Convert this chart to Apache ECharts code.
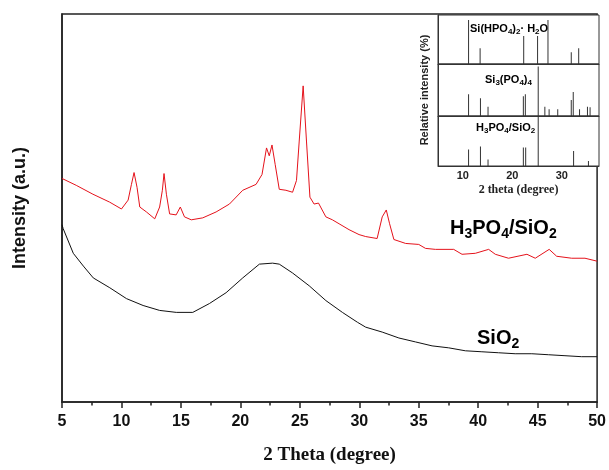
<!DOCTYPE html>
<html>
<head>
<meta charset="utf-8">
<title>XRD</title>
<script src="https://cdn.jsdelivr.net/npm/echarts/dist/echarts.min.js"></script>
<style>
  html, body { margin: 0; padding: 0; background: #fff; }
  #main { width: 609px; height: 470px; }
</style>
</head>
<body>
<div id="main"></div>
<script>
// main pattern, H3PO4/SiO2 (2theta, intensity a.u.)
var redData = [
  [5.0, 227], [6.2, 220], [7.6, 211], [9.0, 203], [10.0, 196], [10.56, 205], [10.84, 221],
  [11.06, 233], [11.31, 218], [11.54, 198], [12.1, 193], [12.8, 186], [13.21, 198],
  [13.44, 215], [13.58, 232], [13.78, 211], [14.05, 191], [14.6, 190], [14.95, 198],
  [15.3, 188], [15.87, 185], [16.84, 187], [17.96, 193], [19.08, 201], [20.2, 215],
  [21.32, 221], [21.82, 231], [22.2, 258], [22.43, 250], [22.66, 261], [22.93, 241],
  [23.27, 216], [23.83, 215], [24.39, 213], [24.72, 225], [24.95, 265], [25.28, 321],
  [25.56, 265], [25.85, 208], [26.2, 201], [26.57, 202], [27.19, 188], [27.74, 185],
  [28.3, 181], [29.14, 175], [29.98, 170], [30.54, 168], [31.5, 166], [31.93, 188],
  [32.27, 195], [32.55, 181], [32.91, 165], [33.9, 161], [35.0, 160], [35.57, 156],
  [36.4, 155], [37.94, 155], [38.64, 150], [39.76, 151], [40.88, 155], [41.44, 150],
  [42.55, 146], [44.1, 150], [44.8, 146], [45.97, 155], [46.6, 148], [47.86, 146],
  [48.98, 146], [50.0, 143]
];
// main pattern, SiO2
var blackData = [
  [5.0, 180], [5.1, 176], [5.95, 151], [6.8, 138], [7.63, 126], [9.02, 116], [10.42, 105],
  [11.82, 98], [13.21, 93], [14.61, 91], [16.0, 91], [17.4, 100], [18.8, 111], [20.2, 126],
  [21.6, 140], [22.71, 141], [23.27, 140], [24.39, 131], [25.79, 118], [27.19, 103],
  [28.58, 91], [29.84, 81], [30.54, 76], [31.93, 71], [33.33, 65], [34.73, 61], [36.12, 57],
  [37.52, 55], [38.92, 52], [40.31, 51], [41.71, 50], [43.11, 49], [44.51, 49], [45.9, 48],
  [47.3, 47], [48.7, 46], [50.0, 46]
];
// inset reference sticks (2theta, relative intensity %)
var siHPOSticks = [[11.17, 90], [13.5, 32], [22.3, 57], [25.1, 57], [27.2, 90], [31.9, 24], [33.4, 32]];
var si3PO4Sticks = [[11.17, 42], [13.57, 34], [15.1, 18], [22.23, 38], [22.63, 42], [25.23, 95],
  [26.57, 18], [27.43, 13], [29.17, 13], [31.9, 31], [32.3, 46], [33.57, 13], [35.17, 18], [35.7, 17]];
var h3po4Sticks = [[11.17, 33], [13.57, 39], [15.1, 13], [22.23, 37], [22.7, 37], [25.23, 99],
  [32.37, 30], [35.37, 10]];
var mainTicks = [5, 10, 15, 20, 25, 30, 35, 40, 45, 50];
var insetTicks = [10, 20, 30];

var chart = echarts.init(document.getElementById('main'));

var sans = 'Liberation Sans, Arial, sans-serif';
var serif = 'Liberation Serif, Times New Roman, serif';
var frame = '#222';

function insetX(idx, showLabels) {
  return {
    type: 'value', gridIndex: idx, min: 5, max: 37.5, interval: 5,
    axisLine: { show: true, lineStyle: { color: '#333', width: 1 } },
    axisTick: { show: false },
    splitLine: { show: false },
    axisLabel: {
      show: showLabels, margin: 4, color: '#222',
      fontFamily: sans, fontWeight: 'bold', fontSize: 11,
      showMinLabel: false, showMaxLabel: false,
      formatter: function (v) { return insetTicks.indexOf(v) >= 0 ? String(v) : ''; }
    },
    name: showLabels ? '2 theta (degree)' : '',
    nameLocation: 'middle', nameGap: 18,
    nameTextStyle: { fontFamily: serif, fontWeight: 'bold', fontSize: 12, color: '#222' }
  };
}
function insetY(idx, name) {
  return {
    type: 'value', gridIndex: idx, min: 0, max: 100,
    axisLine: { show: true, lineStyle: { color: '#333', width: 1 } },
    axisTick: { show: false }, axisLabel: { show: false }, splitLine: { show: false },
    name: name, nameLocation: 'middle', nameGap: 8,
    nameTextStyle: { fontFamily: sans, fontWeight: 'bold', fontSize: 11, color: '#222' }
  };
}
function sticks(idx, data) {
  return {
    type: 'bar', xAxisIndex: idx, yAxisIndex: idx, data: data,
    barWidth: 1, itemStyle: { color: '#333' }, silent: true
  };
}

var sub = function (size, pad) {
  return { fontSize: size, fontWeight: 'bold', fontFamily: sans, color: '#111', padding: [pad, 0, 0, 0] };
};
var norm = function (size) {
  return { fontSize: size, fontWeight: 'bold', fontFamily: sans, color: '#111' };
};

chart.setOption({
  animation: false,
  backgroundColor: '#fff',
  grid: [
    { left: 62, top: 14, width: 537, height: 394, show: true, borderColor: frame, borderWidth: 1.5 },
    { left: 438, top: 15, width: 161, height: 49, show: true, backgroundColor: '#fff', borderColor: '#333', borderWidth: 1 },
    { left: 438, top: 64, width: 161, height: 52, show: true, backgroundColor: '#fff', borderColor: '#333', borderWidth: 1 },
    { left: 438, top: 116, width: 161, height: 50, show: true, backgroundColor: '#fff', borderColor: '#333', borderWidth: 1 }
  ],
  xAxis: [
    {
      type: 'value', gridIndex: 0, min: 5, max: 50, interval: 5,
      axisLine: { show: true, lineStyle: { color: frame, width: 1.5 } },
      axisTick: { show: true, inside: false, length: 6, lineStyle: { color: frame, width: 1.5 } },
      minorTick: { show: true, splitNumber: 2, length: 3.5, lineStyle: { color: frame, width: 1.5 } },
      splitLine: { show: false },
      axisLabel: {
        margin: 12, color: '#111', fontFamily: sans, fontWeight: 'bold', fontSize: 16,
        formatter: function (v) { return mainTicks.indexOf(v) >= 0 ? String(v) : ''; }
      },
      name: '2 Theta (degree)', nameLocation: 'middle', nameGap: 44,
      nameTextStyle: { fontFamily: serif, fontWeight: 'bold', fontSize: 19, color: '#111' }
    },
    insetX(1, false), insetX(2, false), insetX(3, true)
  ],
  yAxis: [
    {
      type: 'value', gridIndex: 0, min: 0, max: 394,
      axisLine: { show: true, lineStyle: { color: frame, width: 1.5 } },
      axisTick: { show: false }, axisLabel: { show: false }, splitLine: { show: false },
      name: 'Intensity (a.u.)', nameLocation: 'middle', nameGap: 33,
      nameTextStyle: { fontFamily: sans, fontWeight: 'bold', fontSize: 18, color: '#111' }
    },
    insetY(1, ''), insetY(2, 'Relative intensity (%)'), insetY(3, '')
  ],
  series: [
    {
      type: 'line', xAxisIndex: 0, yAxisIndex: 0, data: redData, symbol: 'none',
      lineStyle: { color: '#e5121b', width: 1 }, silent: true
    },
    {
      type: 'line', xAxisIndex: 0, yAxisIndex: 0, data: blackData, symbol: 'none',
      lineStyle: { color: '#111', width: 1 }, silent: true
    },
    sticks(1, siHPOSticks),
    sticks(2, si3PO4Sticks),
    sticks(3, h3po4Sticks)
  ],
  graphic: [
    {
      type: 'text', left: 450, top: 218, z: 10,
      style: {
        text: '{n|H}{s|3}{n|PO}{s|4}{n|/SiO}{s|2}',
        rich: { n: norm(20), s: sub(14, 12) }
      }
    },
    {
      type: 'text', left: 477, top: 328, z: 10,
      style: {
        text: '{n|SiO}{s|2}',
        rich: { n: norm(20), s: sub(14, 12) }
      }
    },
    {
      type: 'text', left: 470, top: 23, z: 10,
      style: {
        text: '{n|Si(HPO}{s|4}{n|)}{s|2}{n|· H}{s|2}{n|O}',
        rich: { n: norm(11), s: sub(8, 6) }
      }
    },
    {
      type: 'text', left: 485, top: 74, z: 10,
      style: {
        text: '{n|Si}{s|3}{n|(PO}{s|4}{n|)}{s|4}',
        rich: { n: norm(11), s: sub(8, 6) }
      }
    },
    {
      type: 'text', left: 476, top: 122, z: 10,
      style: {
        text: '{n|H}{s|3}{n|PO}{s|4}{n|/SiO}{s|2}',
        rich: { n: norm(11), s: sub(8, 6) }
      }
    }
  ]
});
</script>
</body>
</html>
